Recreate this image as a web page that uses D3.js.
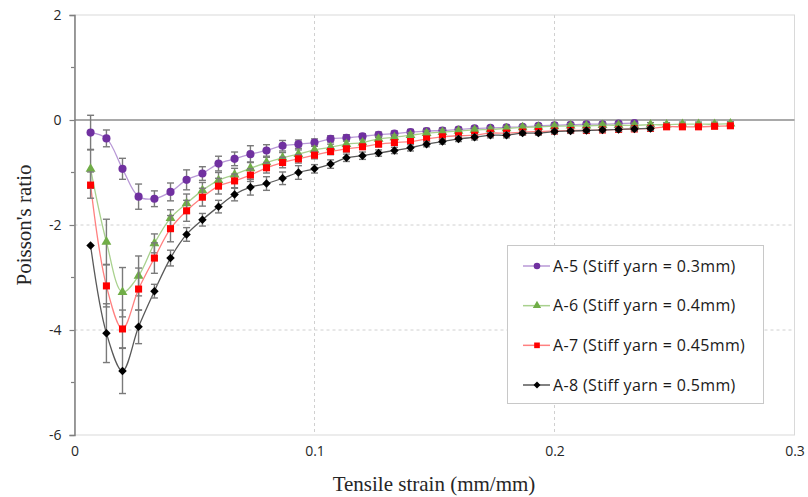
<!DOCTYPE html>
<html lang="en">
<head>
<meta charset="UTF-8">
<script src="https://d3js.org/d3.v7.min.js"></script>
<title>Poisson's ratio vs tensile strain</title>
<style>
    body { margin: 0; background: #fff; }
    svg { display: block; }
    .tick text { font-family: "Open Sans", sans-serif; font-size: 14px; fill: #262626; }
    .legend text { font-family: "Open Sans", sans-serif; font-size: 16px; letter-spacing: 0.35px; fill: #1a1a1a; }
    .title { font-family: "Liberation Serif", "Times New Roman", serif; font-size: 21px; fill: #262626; }
</style>
</head>
<body>
<svg width="808" height="497"></svg>
<script>
// strain values (mm/mm) of the measurement points
const strain = [0.0067, 0.0133, 0.02, 0.0267, 0.0333, 0.04, 0.0467, 0.0533, 0.06, 0.0667,
                0.0733, 0.08, 0.0867, 0.0933, 0.1, 0.1067, 0.1133, 0.12, 0.1267, 0.1333,
                0.14, 0.1467, 0.1533, 0.16, 0.1667, 0.1733, 0.18, 0.1867, 0.1933, 0.2,
                0.2067, 0.2133, 0.22, 0.2267, 0.2333, 0.24, 0.2467, 0.2533, 0.26, 0.2667, 0.2733];

const a5 = [-0.24, -0.35, -0.93, -1.46, -1.50, -1.37, -1.14, -1.02, -0.83, -0.74,
            -0.65, -0.58, -0.49, -0.46, -0.43, -0.36, -0.34, -0.31, -0.28, -0.26,
            -0.23, -0.21, -0.20, -0.18, -0.16, -0.15, -0.14, -0.13, -0.11, -0.10,
            -0.09, -0.08, -0.08, -0.07, -0.06];
const a5Err = [0.33, 0.16, 0.20, 0.24, 0.15, 0.17, 0.19, 0.13, 0.14, 0.13,
               0.16, 0.11, 0.10, 0.08, 0.07, 0.06, 0.06, 0.05, 0.05, 0.05,
               0.05, 0.05, 0.05, 0.04, 0.04, 0.04, 0.04, 0.04, 0.04, 0.04,
               0.04, 0.04, 0.04, 0.04, 0.04];

const a6 = [-0.93, -2.32, -3.28, -2.97, -2.35, -1.87, -1.59, -1.34, -1.15, -1.04,
            -0.92, -0.81, -0.72, -0.65, -0.57, -0.52, -0.46, -0.43, -0.36, -0.33,
            -0.29, -0.25, -0.23, -0.21, -0.19, -0.18, -0.16, -0.14, -0.13, -0.12,
            -0.11, -0.11, -0.10, -0.10, -0.10, -0.09, -0.09, -0.08, -0.08, -0.08, -0.07];
const a6Err = [0.37, 0.43, 0.47, 0.38, 0.18, 0.16, 0.18, 0.15, 0.15, 0.12,
               0.12, 0.10, 0.10, 0.08, 0.07, 0.06, 0.06, 0.05, 0.05, 0.05,
               0.05, 0.05, 0.05, 0.04, 0.04, 0.04, 0.04, 0.04, 0.04, 0.04,
               0.04, 0.04, 0.04, 0.04, 0.04, 0.04, 0.04, 0.04, 0.04, 0.04, 0.04];

const a7 = [-1.24, -3.16, -3.98, -3.22, -2.63, -2.07, -1.73, -1.47, -1.26, -1.16,
            -1.05, -0.91, -0.81, -0.74, -0.67, -0.60, -0.55, -0.51, -0.46, -0.43,
            -0.41, -0.36, -0.32, -0.30, -0.29, -0.25, -0.25, -0.23, -0.22, -0.21,
            -0.20, -0.20, -0.19, -0.18, -0.17, -0.16, -0.13, -0.13, -0.13, -0.12, -0.11];
const a7Err = [0.25, 0.40, 0.36, 0.40, 0.29, 0.25, 0.20, 0.17, 0.15, 0.13,
               0.12, 0.10, 0.10, 0.08, 0.07, 0.06, 0.06, 0.05, 0.05, 0.05,
               0.05, 0.05, 0.05, 0.04, 0.04, 0.04, 0.04, 0.04, 0.04, 0.04,
               0.04, 0.04, 0.04, 0.04, 0.04, 0.04, 0.04, 0.04, 0.04, 0.04, 0.04];

const a8 = [-2.39, -4.06, -4.78, -3.94, -3.26, -2.63, -2.18, -1.90, -1.65, -1.42,
            -1.28, -1.21, -1.11, -1.00, -0.93, -0.84, -0.72, -0.68, -0.63, -0.58,
            -0.53, -0.46, -0.41, -0.36, -0.33, -0.29, -0.29, -0.25, -0.25, -0.22,
            -0.21, -0.20, -0.19, -0.18, -0.17, -0.16];
const a8Err = [0.00, 0.56, 0.43, 0.32, 0.13, 0.15, 0.13, 0.12, 0.12, 0.12,
               0.15, 0.13, 0.12, 0.13, 0.08, 0.08, 0.07, 0.07, 0.06, 0.06,
               0.06, 0.05, 0.05, 0.05, 0.05, 0.05, 0.05, 0.04, 0.04, 0.04,
               0.04, 0.04, 0.04, 0.04, 0.04, 0.04];

const seriesNames = ["A-5 (Stiff yarn = 0.3mm)", "A-6 (Stiff yarn = 0.4mm)",
                     "A-7 (Stiff yarn = 0.45mm)", "A-8 (Stiff yarn = 0.5mm)"];

const xTicks = [0, 0.1, 0.2, 0.3];
const xTickLabels = ["0", "0.1", "0.2", "0.3"];
const yTicks = [-6, -4, -2, 0, 2];
const yMinorTicks = [-5, -3, -1, 1];

const svg = d3.select("svg");
const pLeft = 74.5, pRight = 794.5, pTop = 15, pBottom = 435;

const x = d3.scaleLinear().domain([0, 0.3]).range([pLeft, pRight]);
const y = d3.scaleLinear().domain([-6, 2]).range([pBottom, pTop]);

// look of each series (rot = marker rotation, the diamond is a turned square)
const styles = [
    {vals: a5, err: a5Err, line: "#b898d6", fill: "#7030a0", sym: d3.symbolCircle, rot: 0, size: 52, lsize: 34},
    {vals: a6, err: a6Err, line: "#a9d18e", fill: "#70ad47", sym: d3.symbolTriangle, rot: 0, size: 42, lsize: 30},
    {vals: a7, err: a7Err, line: "#ff8080", fill: "#ff0000", sym: d3.symbolSquare, rot: 0, size: 50, lsize: 32},
    {vals: a8, err: a8Err, line: "#595959", fill: "#000000", sym: d3.symbolSquare, rot: 45, size: 36, lsize: 24}
];

// gridlines
const grid = svg.append("g");
grid.selectAll(".hg").data([-4, -2]).enter().append("line")
    .attr("x1", pLeft).attr("x2", pRight)
    .attr("y1", d => y(d)).attr("y2", d => y(d))
    .attr("stroke", "#d0d0d0").attr("stroke-dasharray", "3,3");
grid.selectAll(".vg").data([0.1, 0.2]).enter().append("line")
    .attr("x1", d => x(d)).attr("x2", d => x(d))
    .attr("y1", pTop).attr("y2", pBottom)
    .attr("stroke", "#d0d0d0").attr("stroke-dasharray", "3,3");
// plot area border
grid.append("rect")
    .attr("x", pLeft).attr("y", pTop)
    .attr("width", pRight - pLeft).attr("height", pBottom - pTop)
    .attr("fill", "none").attr("stroke", "#d9d9d9");

// zero line
svg.append("line")
    .attr("x1", pLeft).attr("x2", pRight)
    .attr("y1", y(0)).attr("y2", y(0))
    .attr("stroke", "#8c8c8c").attr("stroke-width", 1.5);

// y axis
const yAxis = svg.append("g")
    .attr("transform", `translate(${pLeft},0)`)
    .call(d3.axisLeft(y).tickValues(yTicks).tickSize(5).tickPadding(8).tickFormat(d3.format("d")));
yAxis.select(".domain").attr("stroke", "#7f7f7f").attr("stroke-width", 1.5);
yAxis.selectAll(".tick line").attr("stroke", "#7f7f7f").attr("stroke-width", 1.2);
yAxis.selectAll(".tick text").text(d => d < 0 ? "-" + Math.abs(d) : d);

svg.append("g").selectAll("line").data(yMinorTicks).enter().append("line")
    .attr("x1", pLeft - 3.5).attr("x2", pLeft)
    .attr("y1", d => y(d)).attr("y2", d => y(d))
    .attr("stroke", "#7f7f7f").attr("stroke-width", 1.2);

// x axis labels only
const xAxis = svg.append("g")
    .attr("transform", `translate(0,${pBottom})`)
    .call(d3.axisBottom(x).tickValues(xTicks).tickSize(0).tickPadding(11)
        .tickFormat((d, i) => xTickLabels[i]));
xAxis.select(".domain").remove();

// axis titles
svg.append("text").attr("class", "title")
    .attr("x", 434).attr("y", 491)
    .attr("text-anchor", "middle")
    .text("Tensile strain (mm/mm)");
svg.append("text").attr("class", "title")
    .attr("transform", `translate(31,225) rotate(-90)`)
    .attr("text-anchor", "middle")
    .text("Poisson's ratio");

// series
const line = d3.line()
    .x(d => x(d[0])).y(d => y(d[1]))
    .curve(d3.curveCatmullRom.alpha(0.5));

styles.forEach(s => {
    const pts = s.vals.map((v, i) => [strain[i], v, s.err[i]]);
    const g = svg.append("g");
    g.append("path").datum(pts)
        .attr("d", line)
        .attr("fill", "none")
        .attr("stroke", s.line)
        .attr("stroke-width", 1.3);

    const eb = g.selectAll(".eb").data(pts.filter(p => p[2] > 0)).enter().append("g")
        .attr("stroke", "#7a7a7a").attr("stroke-width", 1.4);
    eb.append("line")
        .attr("x1", d => x(d[0])).attr("x2", d => x(d[0]))
        .attr("y1", d => y(d[1] - d[2])).attr("y2", d => y(d[1] + d[2]));
    eb.append("line")
        .attr("x1", d => x(d[0]) - 3.5).attr("x2", d => x(d[0]) + 3.5)
        .attr("y1", d => y(d[1] - d[2])).attr("y2", d => y(d[1] - d[2]));
    eb.append("line")
        .attr("x1", d => x(d[0]) - 3.5).attr("x2", d => x(d[0]) + 3.5)
        .attr("y1", d => y(d[1] + d[2])).attr("y2", d => y(d[1] + d[2]));

    g.selectAll(".mk").data(pts).enter().append("path")
        .attr("transform", d => `translate(${x(d[0])},${y(d[1])}) rotate(${s.rot})`)
        .attr("d", d3.symbol().type(s.sym).size(s.size))
        .attr("fill", s.fill);
});

// legend
const lg = svg.append("g").attr("class", "legend");
lg.append("rect")
    .attr("x", 507.5).attr("y", 245.5)
    .attr("width", 256).attr("height", 158)
    .attr("fill", "#fff").attr("stroke", "#c8c8c8");
const rowY = d3.scalePoint().domain(seriesNames).range([266, 385]);
seriesNames.forEach((name, i) => {
    const s = styles[i];
    const yy = rowY(name);
    lg.append("line")
        .attr("x1", 523).attr("x2", 550)
        .attr("y1", yy).attr("y2", yy)
        .attr("stroke", s.line).attr("stroke-width", 1.5);
    lg.append("path")
        .attr("transform", `translate(537,${yy}) rotate(${s.rot})`)
        .attr("d", d3.symbol().type(s.sym).size(s.lsize))
        .attr("fill", s.fill);
    lg.append("text")
        .attr("x", 553).attr("y", yy)
        .attr("dy", "0.35em")
        .text(name);
});
</script>
</body>
</html>
